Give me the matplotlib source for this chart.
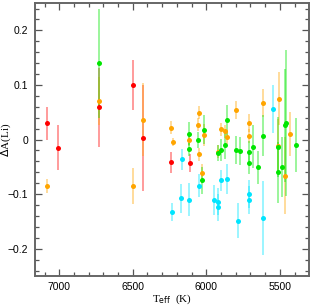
import numpy as np
import matplotlib
matplotlib.use('Agg')
import matplotlib.pyplot as plt
from matplotlib.ticker import MultipleLocator, FuncFormatter
from matplotlib.colors import to_rgba

# Teff (K), Delta A(Li), error -- one group per colour
red_teff = [7086, 7011, 6728, 6500, 6428, 6241, 6114]
red_dli = [0.030, -0.015, 0.059, 0.100, 0.003, -0.042, -0.043]
red_err = [0.030, 0.041, 0.072, 0.045, 0.097, 0.019, 0.017]

orange_teff = [7086, 6728, 6500, 6428, 6241, 6228, 6117, 6048, 6057, 6048, 6019, 6030,
               5898, 5871, 5856, 5921, 5796, 5713, 5713, 5614, 5508, 5512, 5428, 5467]
orange_dli = [-0.085, 0.071, -0.086, 0.036, 0.022, -0.005, -0.001, 0.049, 0.027, -0.027, 0.009, -0.062,
              0.019, 0.015, 0.004, -0.022, 0.054, 0.030, 0.006, 0.067, 0.075, -0.012, 0.010, -0.066]
orange_err = [0.013, 0.044, 0.033, 0.067, 0.012, 0.007, 0.010, 0.012, 0.012, 0.012, 0.020, 0.018,
              0.012, 0.012, 0.012, 0.012, 0.016, 0.017, 0.013, 0.026, 0.049, 0.050, 0.040, 0.070]

green_teff = [6728, 6117, 6117, 6057, 6019, 6030, 5898, 5871, 5856, 5921, 5796, 5774,
              5713, 5713, 5685, 5651, 5614, 5515, 5515, 5485, 5462, 5456, 5390]
green_dli = [0.140, 0.011, -0.018, -0.001, 0.018, -0.075, -0.019, -0.010, 0.036, -0.025, -0.019, -0.021,
             -0.023, -0.043, -0.013, -0.051, 0.007, -0.014, -0.060, -0.050, 0.026, 0.030, -0.010]
green_err = [0.100, 0.021, 0.012, 0.015, 0.027, 0.024, 0.020, 0.025, 0.027, 0.015, 0.025, 0.025,
             0.020, 0.020, 0.040, 0.030, 0.038, 0.055, 0.056, 0.055, 0.104, 0.134, 0.050]

cyan_teff = [6166, 6230, 6173, 6115, 6053, 5951, 5921, 5921, 5898, 5856, 5785, 5713, 5713, 5614, 5549]
cyan_dli = [-0.036, -0.133, -0.108, -0.110, -0.085, -0.111, -0.114, -0.124, -0.075, -0.072,
            -0.149, -0.100, -0.111, -0.144, 0.056]
cyan_err = [0.019, 0.016, 0.026, 0.030, 0.021, 0.027, 0.025, 0.025, 0.020, 0.028,
            0.032, 0.025, 0.025, 0.068, 0.044]

groups = [
    (red_teff, red_dli, red_err, '#ff0000'),
    (orange_teff, orange_dli, orange_err, '#ffa500'),
    (cyan_teff, cyan_dli, cyan_err, '#00e5ff'),
    (green_teff, green_dli, green_err, '#00e600'),
]

fig = plt.figure(figsize=(3.11, 3.07), dpi=100)
ax = fig.add_axes([0.1125, 0.101, 0.8795, 0.889])

for teff, dli, err, color in groups:
    ax.errorbar(teff, dli, yerr=err, fmt='o', ms=3.6, mfc=color, mec=color, mew=0,
                ecolor=to_rgba(color, 0.5), elinewidth=1.1, capsize=2.5, capthick=1.0, zorder=3)

ax.set_xlim(7165, 5305)
ax.set_ylim(-0.25, 0.25)

ax.xaxis.set_major_locator(MultipleLocator(500))
ax.xaxis.set_minor_locator(MultipleLocator(100))
ax.yaxis.set_major_locator(MultipleLocator(0.1))
ax.yaxis.set_minor_locator(MultipleLocator(0.02))


def fmt_y(v, pos):
    if abs(v) < 1e-9:
        return '0'
    return ('%.1f' % v).replace('-', '\u2212')


ax.yaxis.set_major_formatter(FuncFormatter(fmt_y))

ax.tick_params(which='both', direction='in', top=True, right=True, color='#555555', width=0.9)
ax.tick_params(which='major', length=5, labelsize=7.5)
ax.tick_params(which='minor', length=2.8)
ax.tick_params(axis='y', pad=5)
ax.tick_params(axis='x', pad=4)
for lab in ax.get_xticklabels() + ax.get_yticklabels():
    lab.set_family('Liberation Sans')

for sp in ax.spines.values():
    sp.set_color('#666666')
    sp.set_linewidth(1.4)

ax.set_xlabel(r'T$_{\rm eff}$  (K)', family='Liberation Serif', fontsize=8)
ax.set_ylabel(r'$\Delta$A(Li)', family='Liberation Serif', fontsize=8)
ax.xaxis.set_label_coords(0.5, -0.062)
ax.yaxis.set_label_coords(-0.08, 0.5)

fig.savefig('out.png', dpi=100)
